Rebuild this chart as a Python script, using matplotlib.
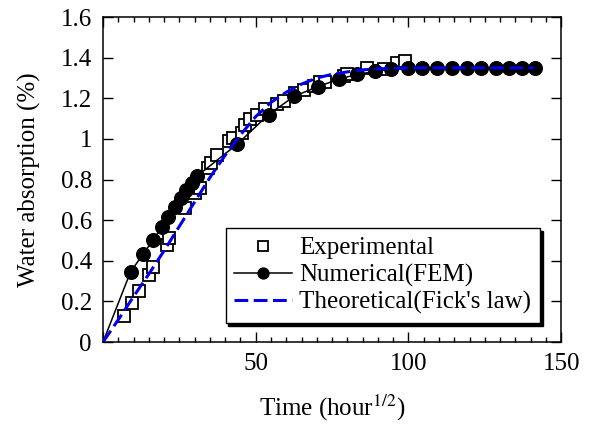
#!/usr/bin/env python3

import matplotlib
matplotlib.use("Agg")
import matplotlib.pyplot as plt
from matplotlib import font_manager
from matplotlib.ticker import FuncFormatter, MultipleLocator

# Experimental points (sqrt time, absorption %)
exp_x = [6.9, 9.6, 11.9, 15.2, 16.5, 20.9, 21.6, 26.9, 30.2, 31.8, 34.5, 35.5,
         37.3, 41.1, 42.7, 45.5, 46.6, 48.2, 50.4, 53.1, 57.0, 59.1, 62.9,
         65.7, 69.0, 71.1, 72.8, 78.8, 79.9, 86.5, 91.9, 96.3, 99.0]
exp_y = [0.13, 0.19, 0.25, 0.33, 0.37, 0.48, 0.51, 0.66, 0.734, 0.76, 0.857, 0.88,
         0.92, 0.99, 1.006, 1.03, 1.07, 1.096, 1.12, 1.146, 1.17, 1.187, 1.225,
         1.24, 1.262, 1.28, 1.278, 1.31, 1.318, 1.35, 1.343, 1.376, 1.384]

# Numerical (FEM) results
fem_x = [0, 9.0, 13.2, 16.5, 19.2, 21.4, 23.6, 25.5, 27.2, 29.1, 30.7, 44.0,
         54.2, 62.6, 70.4, 77.2, 83.2, 89.2, 94.3, 100.0, 104.5, 109.4, 114.3,
         119.2, 123.6, 128.5, 132.9, 137.3, 141.3]
fem_y = [0, 0.345, 0.435, 0.504, 0.566, 0.616, 0.665, 0.71, 0.747, 0.783, 0.816,
         0.975, 1.12, 1.21, 1.258, 1.294, 1.318, 1.332, 1.343, 1.348, 1.35, 1.35,
         1.35, 1.35, 1.35, 1.35, 1.35, 1.35, 1.35]

# Theoretical curve (Fick's law)
fick_x = [0, 5, 10, 15, 20, 25, 30, 35, 40, 45, 50, 55, 60, 65, 70, 75, 80,
          85, 90, 100, 110, 120, 130, 141]
fick_y = [0, 0.11, 0.224, 0.335, 0.45, 0.57, 0.69, 0.81, 0.92, 1.02, 1.11,
          1.18, 1.23, 1.27, 1.30, 1.318, 1.33, 1.34, 1.345, 1.35, 1.35, 1.35,
          1.35, 1.35]

installed = {f.name for f in font_manager.fontManager.ttflist}
serif = [n for n in ["Liberation Serif", "Nimbus Roman", "Times New Roman", "STIXGeneral"]
         if n in installed]
plt.rcParams["font.family"] = serif + ["DejaVu Serif"]
plt.rcParams["mathtext.fontset"] = "stix"

fig = plt.figure(figsize=(5.92, 4.26), dpi=100)
ax = fig.add_axes([0.174, 0.197, 0.774, 0.763])

ax.plot(exp_x, exp_y, linestyle="none", marker="s", markersize=8.5,
        markerfacecolor="white", markeredgecolor="black", markeredgewidth=1.3,
        label="Experimental", zorder=2)
ax.plot(fem_x, fem_y, color="black", linewidth=1.1, marker="o", markersize=9.8,
        markevery=list(range(1, len(fem_x))), label="Numerical(FEM)", zorder=3)
fick_line, = ax.plot(fick_x, fick_y, color="#0000ee", linewidth=2.2,
                     label="Theoretical(Fick's law)", zorder=4)
fick_line.set_dashes((4.5, 1.8))

ax.set_xlim(0, 150)
ax.set_ylim(0, 1.6)
ax.xaxis.set_major_locator(MultipleLocator(50))
ax.xaxis.set_minor_locator(MultipleLocator(5))
ax.yaxis.set_major_locator(MultipleLocator(0.2))
ax.yaxis.set_major_formatter(FuncFormatter(lambda v, p: "%g" % round(v, 2)))
ax.xaxis.set_major_formatter(FuncFormatter(lambda v, p: "" if v == 0 else "%g" % v))

ax.tick_params(which="both", direction="in", top=True, right=True,
               labelsize=18, width=1.0)
ax.tick_params(which="major", length=7, pad=8)
ax.tick_params(which="minor", length=3.5)
for spine in ax.spines.values():
    spine.set_linewidth(1.1)

ax.set_xlabel("Time (hour$^{1/2}$)", fontsize=18, labelpad=13)
ax.set_ylabel("Water absorption (%)", fontsize=18, labelpad=14)

leg = ax.legend(loc="lower right", bbox_to_anchor=(0.954, 0.058), fontsize=18,
                frameon=True, fancybox=False, shadow={"color": "black", "alpha": 1},
                edgecolor="black", framealpha=1, handlelength=2.3,
                handletextpad=0.3, borderpad=0.35, labelspacing=0.18,
                borderaxespad=0, markerscale=0.8)
leg.get_frame().set_linewidth(1.0)

fig.savefig("out.png", dpi=100)
